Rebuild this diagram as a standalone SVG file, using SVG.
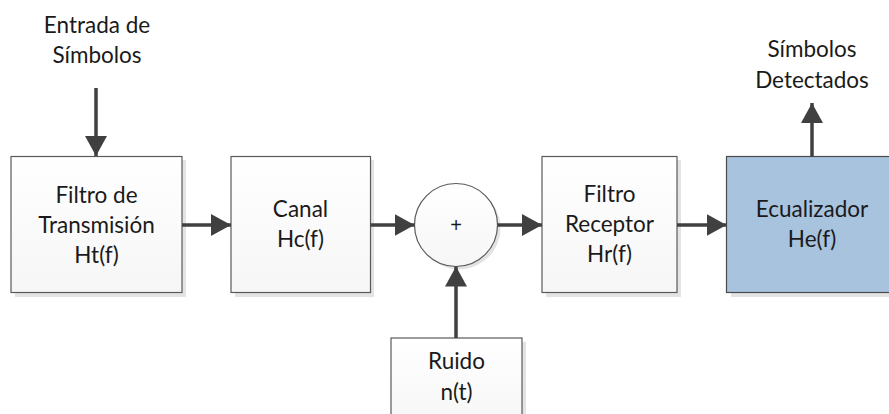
<svg xmlns="http://www.w3.org/2000/svg" width="889" height="414" viewBox="0 0 889 414">
<defs>
<linearGradient id="g" x1="0" y1="0" x2="0" y2="1"><stop offset="0" stop-color="#ffffff"/><stop offset="1" stop-color="#f6f6f6"/></linearGradient>
<marker id="ah" markerUnits="userSpaceOnUse" markerWidth="22" markerHeight="22" refX="20" refY="11" orient="auto"><path d="M0,0 L20,11 L0,22 Z" fill="#404040"/></marker>
</defs>
<style>
.box{fill:url(#g);stroke:#5a5a5a;stroke-width:1.2}
.sh{fill:#e3e3e3}
.t{font-family:Lato,"Open Sans",sans-serif;font-size:22.5px;fill:#1a1a1a;text-anchor:middle}
.c{stroke:#404040;stroke-width:3.5;fill:none;marker-end:url(#ah)}
</style>
<rect width="889" height="414" fill="#ffffff"/>
<g id="entrada"><text class="t" x="97" y="33">Entrada de</text><text class="t" x="97" y="63">Símbolos</text></g>
<g id="filtro-tx"><rect class="sh" x="15" y="160" width="171" height="137"/><rect class="box" x="11" y="156.5" width="171" height="136"/><text class="t" x="96.5" y="203">Filtro de</text><text class="t" x="96.5" y="233">Transmisión</text><text class="t" x="96.5" y="263">Ht(f)</text></g>
<g id="canal"><rect class="sh" x="235" y="160" width="139" height="137"/><rect class="box" x="231" y="156.5" width="139.5" height="136"/><text class="t" x="300.5" y="217">Canal</text><text class="t" x="300.5" y="247">Hc(f)</text></g>
<g id="sumador"><circle cx="459" cy="228" r="41.5" fill="#e3e3e3"/><circle cx="456" cy="225" r="41.5" fill="url(#g)" stroke="#5a5a5a" stroke-width="1.2"/><text x="456" y="232" style="font-family:'Liberation Sans',sans-serif;font-size:20px;fill:#1a1a1a;text-anchor:middle">+</text></g>
<g id="filtro-rx"><rect class="sh" x="546" y="160" width="135" height="137"/><rect class="box" x="542" y="156.5" width="135" height="136"/><text class="t" x="609.5" y="202">Filtro</text><text class="t" x="609.5" y="232">Receptor</text><text class="t" x="609.5" y="262">Hr(f)</text></g>
<g id="ecualizador"><rect class="sh" x="731" y="160" width="170" height="137"/><rect x="726.5" y="156.5" width="170" height="136" fill="#a8c3de" stroke="#4a4a4a" stroke-width="1.2"/><text class="t" x="812" y="217">Ecualizador</text><text class="t" x="812" y="247">He(f)</text></g>
<g id="ruido"><rect class="sh" x="395" y="342" width="131" height="80"/><rect class="box" x="391" y="338" width="131" height="90"/><text class="t" x="456.5" y="369">Ruido</text><text class="t" x="456.5" y="400">n(t)</text></g>
<g id="salida"><text class="t" x="812" y="57">Símbolos</text><text class="t" x="812" y="88">Detectados</text></g>
<g id="connectors">
<line class="c" x1="96" y1="88" x2="96" y2="156"/>
<line class="c" x1="182" y1="225" x2="231" y2="225"/>
<line class="c" x1="370.5" y1="225" x2="414.5" y2="225"/>
<line class="c" x1="497.5" y1="225" x2="542" y2="225"/>
<line class="c" x1="677" y1="225" x2="726.5" y2="225"/>
<line class="c" x1="456" y1="338" x2="456" y2="266.5"/>
<line class="c" x1="812" y1="156.5" x2="812" y2="103"/>
</g>
</svg>
